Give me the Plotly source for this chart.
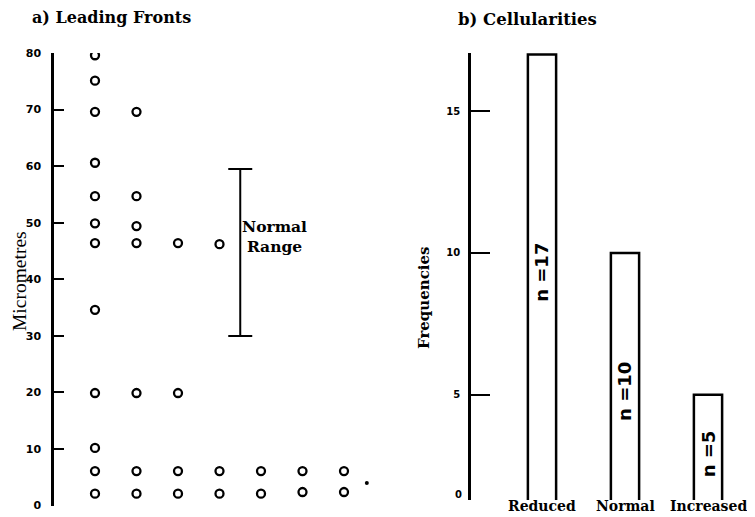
import plotly.graph_objects as go

# ---------------- data ----------------
# a) Leading fronts: micrometre readings per column (columns 1..7)
front_col1 = [79.6, 75.1, 69.6, 60.6, 54.7, 49.9, 46.4, 34.6, 19.9, 10.2, 6.1, 2.1]
front_col2 = [69.6, 54.7, 49.4, 46.4, 19.9, 6.1, 2.1]
front_col3 = [46.4, 19.9, 6.1, 2.1]
front_col4 = [46.2, 6.1, 2.1]
front_col5 = [6.1, 2.1]
front_col6 = [6.1, 2.4]
front_col7 = [6.1, 2.4]
front_columns = [front_col1, front_col2, front_col3, front_col4, front_col5, front_col6, front_col7]
stray_x = [7.55]
stray_y = [4.0]

normal_range_x = 4.5
normal_range_low = 30.0
normal_range_high = 59.5

left_ticks = [0, 10, 20, 30, 40, 50, 60, 70, 80]

# b) Cellularities
cell_categories = ["Reduced", "Normal", "Increased"]
cell_counts = [17, 10, 5]
cell_label_pos = [9.3, 5.1, 2.9]   # where the rotated "n =" labels sit
right_ticks = [5, 10, 15]

W, H = 755, 517
OFF = 8  # page body margin

def px_x(p):
    return (p - OFF) / W

def px_y(p):
    return 1 - (p - OFF) / H

fig = go.Figure()

# ---------------- left panel ----------------
xs, ys = [], []
for i, col in enumerate(front_columns, start=1):
    xs += [i] * len(col)
    ys += col
fig.add_trace(go.Scatter(
    x=xs, y=ys, mode="markers", xaxis="x", yaxis="y",
    marker=dict(symbol="circle-open", size=8, color="black", line=dict(width=2.3, color="black")),
    showlegend=False, hoverinfo="skip"))
fig.add_trace(go.Scatter(
    x=stray_x, y=stray_y, mode="markers", xaxis="x", yaxis="y",
    marker=dict(symbol="circle", size=4, color="black"),
    showlegend=False, hoverinfo="skip"))

mid = (normal_range_low + normal_range_high) / 2
half = (normal_range_high - normal_range_low) / 2
fig.add_trace(go.Scatter(
    x=[normal_range_x], y=[mid], mode="markers", xaxis="x", yaxis="y",
    marker=dict(size=1, color="rgba(0,0,0,0)"),
    error_y=dict(type="data", array=[half], visible=True, color="black", thickness=2, width=12),
    showlegend=False, hoverinfo="skip"))

# ---------------- right panel ----------------
fig.add_trace(go.Bar(
    x=cell_categories, y=cell_counts, xaxis="x2", yaxis="y2", width=0.34,
    marker=dict(color="white", line=dict(color="black", width=2.5)),
    showlegend=False, hoverinfo="skip"))

# left axis geometry (screen pixels)
lx0, lx1 = 54, 390
ly_top, ly_bot = 53, 505.6
col_px0, col_step = 95, 41.5
x_lo = 1 - (col_px0 - lx0) / col_step
x_hi = 1 + (lx1 - col_px0) / col_step

# right axis geometry (screen pixels)
rx0, rx1 = 471, 755
cat_px0, cat_step = 542, 83
rx_lo = (rx0 - cat_px0) / cat_step
rx_hi = 2 + (rx1 - cat_px0 - 2 * cat_step) / cat_step
ry_top, ry_bot = 53, 500
ry_hi, ry_lo = 17.05, 1.29

tickfont = dict(family="DejaVu Sans", size=11, color="black", weight="bold")

fig.update_layout(
    template="none",
    width=W, height=H, autosize=False,
    margin=dict(l=0, r=0, t=0, b=0, pad=0),
    paper_bgcolor="white", plot_bgcolor="white",
    xaxis=dict(domain=[px_x(lx0), px_x(lx1)], range=[x_lo, x_hi], visible=False, automargin=False),
    yaxis=dict(domain=[px_y(ly_bot), px_y(ly_top)], range=[0, 80], automargin=False,
               showline=True, linewidth=2.5, linecolor="black", mirror=False,
               ticks="inside", ticklen=10, tickwidth=2, tickcolor="black",
               tickvals=left_ticks, tickfont=tickfont, showgrid=False, zeroline=False,
               ticklabelstandoff=8),
    xaxis2=dict(domain=[px_x(rx0), px_x(rx1)], range=[rx_lo, rx_hi], anchor="y2", automargin=False,
                showline=False, showgrid=False, zeroline=False, showticklabels=False, ticks=""),
    yaxis2=dict(domain=[px_y(ry_bot), px_y(ry_top)], range=[ry_lo, ry_hi], anchor="x2", automargin=False,
                showline=True, linewidth=2.5, linecolor="black",
                ticks="inside", ticklen=19, tickwidth=2, tickcolor="black",
                tickvals=right_ticks, tickfont=dict(family="DejaVu Sans", size=10, color="black", weight="bold"),
                showgrid=False, zeroline=False, ticklabelstandoff=6),
)

serif_bold = dict(family="DejaVu Serif", color="black", weight="bold")

annotations = [
    dict(text="a) Leading Fronts", x=px_x(30), y=px_y(17), xref="paper", yref="paper",
         xanchor="left", yanchor="middle", showarrow=False, font=dict(serif_bold, size=16)),
    dict(text="b) Cellularities", x=px_x(456), y=px_y(20), xref="paper", yref="paper",
         xanchor="left", yanchor="middle", showarrow=False, font=dict(serif_bold, size=16.5)),
    dict(text="Micrometres", x=px_x(19), y=px_y(281), xref="paper", yref="paper",
         xanchor="center", yanchor="middle", borderpad=0,
         textangle=-90, showarrow=False, font=dict(family="Liberation Serif", size=19.5, color="black")),
    dict(text="Frequencies", x=px_x(424), y=px_y(298), xref="paper", yref="paper",
         xanchor="center", yanchor="middle",
         textangle=-90, showarrow=False, font=dict(serif_bold, size=15)),
    dict(text="Normal<br>Range", x=normal_range_x, y=47.5, xref="x", yref="y",
         xanchor="left", yanchor="middle", xshift=0, showarrow=False, align="center",
         font=dict(serif_bold, size=15.5)),
    dict(text="0", x=px_x(458), y=px_y(494), xref="paper", yref="paper",
         xanchor="center", yanchor="middle",
         showarrow=False, font=dict(family="DejaVu Sans", size=10, color="black", weight="bold")),
]
for cat in cell_categories:
    annotations.append(dict(text=cat, x=cat, y=px_y(506), xref="x2", yref="paper",
                            showarrow=False, xanchor="center", yanchor="middle",
                            font=dict(serif_bold, size=14)))
for cat, n, pos in zip(cell_categories, cell_counts, cell_label_pos):
    annotations.append(dict(text=f"n ={n}", x=cat, y=pos, xref="x2", yref="y2",
                            xanchor="center", yanchor="middle",
                            textangle=-90, showarrow=False,
                            font=dict(family="DejaVu Sans", size=18, color="black", weight="bold")))
fig.update_layout(annotations=annotations)

fig.write_html("out.html")
